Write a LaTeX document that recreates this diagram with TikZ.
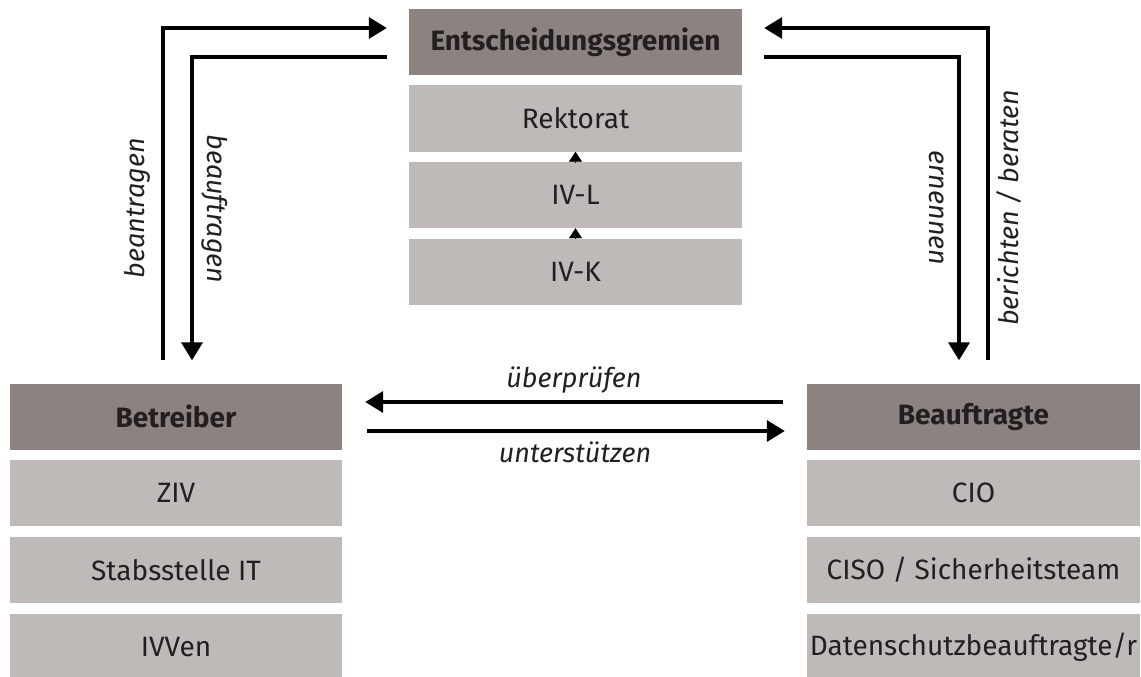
\documentclass[tikz,border=0pt]{standalone}
\usepackage{fontspec}
\setmainfont{Fira Sans}
\usetikzlibrary{arrows.meta}
\definecolor{hdrcol}{HTML}{8C8381}
\definecolor{boxcol}{HTML}{BFB9B8}
\definecolor{txtcol}{HTML}{231F20}
\tikzset{
  hdr/.style={rectangle, fill=hdrcol, draw=none, minimum width=333pt, minimum height=66pt, inner sep=0pt, text=txtcol, font=\fontsize{28}{31}\selectfont\bfseries},
  itembox/.style={rectangle, fill=boxcol, draw=none, minimum width=333pt, minimum height=66pt, inner sep=0pt, text=txtcol, font=\fontsize{28}{31}\selectfont},
  conn/.style={line width=3.6pt, -{Triangle[length=18pt,width=21pt]}, black},
  smallarr/.style={line width=0.4pt, -{Triangle[length=10pt,width=13pt]}, black},
  lbl/.style={inner sep=0pt, text=txtcol, font=\fontsize{27}{30}\selectfont\itshape}
}
\begin{document}
\begin{tikzpicture}[x=1pt,y=-1pt]
\useasboundingbox (0,0) rectangle (1141,677);
% top column
\node[hdr] (ent) at (575.5,42.5) {Entscheidungsgremien};
\node[itembox] (rek) at (575.5,118.5) {Rektorat};
\node[itembox] (ivl) at (575.5,195) {IV-L};
\node[itembox] (ivk) at (575.5,272) {IV-K};
% left column
\node[hdr, minimum width=332pt] (bet) at (176,416.5) {Betreiber};
\node[itembox, minimum width=332pt] (ziv) at (176,493) {ZIV};
\node[itembox, minimum width=332pt] (stab) at (176,570) {Stabsstelle IT};
\node[itembox, minimum width=332pt] (ivv) at (176,647) {IVVen};
% right column
\node[hdr] (bea) at (973.5,416.5) {Beauftragte};
\node[itembox] (cio) at (973.5,493) {CIO};
\node[itembox] (ciso) at (973.5,570) {CISO / Sicherheitsteam};
\node[itembox] (dsb) at (973.5,647) {Datenschutzbeauftragte/r};
% small arrows
\draw[smallarr] (ivl.north) -- (rek.south);
\draw[smallarr] (ivk.north) -- (ivl.south);
% left connectors
\draw[conn] ([xshift=-13pt,yshift=23pt]bet.north) |- ([xshift=-22pt,yshift=14.5pt]ent.west);
\draw[conn] ([xshift=-22pt,yshift=-14.5pt]ent.west) -| ([xshift=16pt,yshift=23pt]bet.north);
% right connectors
\draw[conn] ([xshift=14.5pt,yshift=23pt]bea.north) |- ([xshift=22pt,yshift=14.5pt]ent.east);
\draw[conn] ([xshift=22pt,yshift=-14.5pt]ent.east) -| ([xshift=-14.5pt,yshift=23pt]bea.north);
% middle connectors
\draw[conn] ([xshift=-24pt,yshift=14.5pt]bea.west) -- ([xshift=23pt,yshift=14.5pt]bet.east);
\draw[conn] ([xshift=25pt,yshift=-14.5pt]bet.east) -- ([xshift=-22pt,yshift=-14.5pt]bea.west);
% labels
\node[lbl, rotate=90] (l1) at (137,208) {beantragen};
\node[lbl, rotate=-90] (l2) at (215,209) {beauftragen};
\node[lbl, rotate=-90] (l3) at (937,208) {ernennen};
\node[lbl, rotate=90] (l4) at (1009,208) {berichten / beraten};
\node[lbl, anchor=base] (l5) at (574,387) {überprüfen};
\node[lbl, anchor=base] (l6) at (575,462) {unterstützen};
\end{tikzpicture}
\end{document}
